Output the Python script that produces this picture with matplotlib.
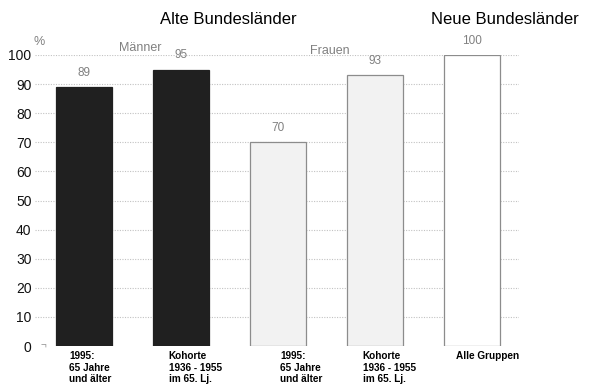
import matplotlib.pyplot as plt
import numpy as np

plt.rcParams['font.family'] = ['Liberation Sans', 'DejaVu Sans']

# Anteil in %, je Gruppe
gruppen = ["1995:\n65 Jahre\nund älter", "Kohorte\n1936 - 1955\nim 65. Lj.",
           "1995:\n65 Jahre\nund älter", "Kohorte\n1936 - 1955\nim 65. Lj.",
           "Alle Gruppen"]
werte = [89, 95, 70, 93, 100]
farben = ["#202020", "#202020", "#f2f2f2", "#f2f2f2", "#ffffff"]
kanten = ["#202020", "#202020", "#8c8c8c", "#8c8c8c", "#8c8c8c"]
yticks = list(range(0, 101, 10))

fig = plt.figure(figsize=(5.99, 3.88), dpi=100)
ax = fig.add_axes([35 / 599, 1 - 346 / 388, 484 / 599, 291 / 388])

x = np.arange(len(werte))
ax.bar(x, werte, width=0.57, color=farben, edgecolor=kanten, linewidth=0.9, zorder=3)

for xi, v in zip(x, werte):
    ax.text(xi, v + 2.8, str(v), ha='center', va='bottom', fontsize=8.5,
            color='#808080', clip_on=False)

ax.set_xlim(-0.505, 4.485)
ax.set_ylim(0, 100)
ax.set_yticks(yticks)
ax.set_yticklabels([str(t) for t in yticks], fontsize=10, color='#111111')
ax.tick_params(axis='y', length=0, pad=2.5)
ax.set_xticks([])
for s in ax.spines.values():
    s.set_visible(False)
for t in yticks[1:]:
    ax.axhline(t, color='#c2c2c2', linestyle=(0, (1, 1.3)), linewidth=0.8, zorder=1)

# Kategorien unter den Balken (Textanfang leicht links der Balkenmitte)
versatz = [-0.155, -0.125, 0.02, -0.125, -0.165]
for xi, g, d in zip(x, gruppen, versatz):
    ax.text(xi + d, -1.8, g, ha='left', va='top', fontsize=7.2, fontweight='bold',
            linespacing=1.2, clip_on=False)

ax.text(0.012, 0, "¬", transform=ax.get_yaxis_transform(), ha='left', va='center',
        fontsize=7, color='#909090')

fig.text(33 / 599, 1 - 42 / 388, "%", fontsize=9, color='#808080', ha='left', va='center')
fig.text(140 / 599, 1 - 48 / 388, "Männer", fontsize=9, color='#808080', ha='center', va='center')
fig.text(330 / 599, 1 - 51 / 388, "Frauen", fontsize=9, color='#808080', ha='center', va='center')

fig.text(228 / 599, 1 - 19 / 388, "Alte Bundesländer", fontsize=12, ha='center', va='center')
fig.text(505 / 599, 1 - 19 / 388, "Neue Bundesländer", fontsize=12, ha='center', va='center')

fig.savefig("out.png", dpi=100)
